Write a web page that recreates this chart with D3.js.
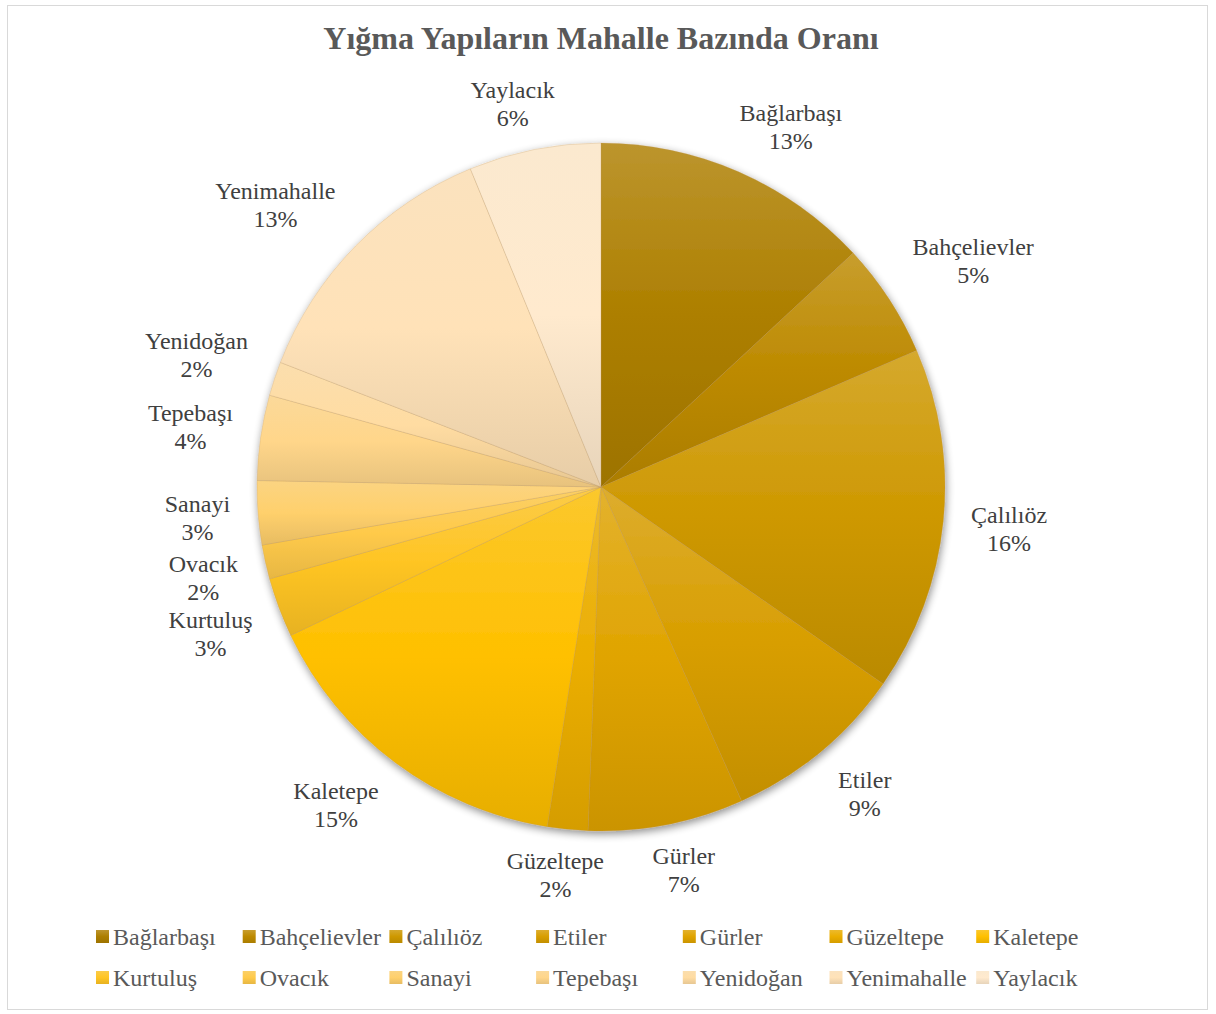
<!DOCTYPE html>
<html>
<head>
<meta charset="utf-8">
<script src="https://cdn.jsdelivr.net/npm/d3@7"></script>
<style>
  body { margin: 0; background: #fff; }
  text { font-family: "Liberation Serif", "Times New Roman", serif; }
</style>
</head>
<body>
<svg id="chart" width="1216" height="1014"></svg>
<script>
// data (share of masonry buildings, %)
var mahalleler = ["Bağlarbaşı","Bahçelievler","Çalılıöz","Etiler","Gürler","Güzeltepe","Kaletepe",
                  "Kurtuluş","Ovacık","Sanayi","Tepebaşı","Yenidoğan","Yenimahalle","Yaylacık"]
var oranlar = [13.1, 5.4, 16.2, 8.6, 7.3, 1.9, 15.4, 2.8, 1.6, 3.0, 4.0, 1.6, 12.9, 6.2]
var renkler = ["#ad7f00","#bd8a00","#ce9800","#d89e00","#e0a400","#ebae00","#ffc000",
               "#ffc524","#ffca4a","#ffd06c","#ffd68a","#ffdca2","#ffe2b8","#ffeace"]

var svg = d3.select("#chart")
var cx = 601, cy = 487, R = 344

svg.append("rect").attr("x",7.5).attr("y",5.5).attr("width",1200).attr("height",1004)
    .style("fill","#fff").style("stroke","#d9d9d9").style("stroke-width",1)

svg.append("text").attr("x",cx).attr("y",49).attr("text-anchor","middle")
    .style("font-size","32px").style("font-weight","bold").style("fill","#595959")
    .text("Yığma Yapıların Mahalle Bazında Oranı")

var defs = svg.append("defs")
var shadow = defs.append("filter").attr("id","shadow").attr("x","-10%").attr("y","-10%").attr("width","120%").attr("height","120%")
shadow.append("feGaussianBlur").attr("in","SourceAlpha").attr("stdDeviation",4)
shadow.append("feOffset").attr("dx",1).attr("dy",3).attr("result","off")
shadow.append("feComponentTransfer").append("feFuncA").attr("type","linear").attr("slope",0.45)
var merge = shadow.append("feMerge")
merge.append("feMergeNode")
merge.append("feMergeNode").attr("in","SourceGraphic")

function topColor(c){ return d3.interpolateRgb(c, "#efe4d2")(0.22) }
function bottomColor(c){ return d3.rgb(c).darker(0.28).formatHex() }

renkler.forEach(function(c,i){
    var gr = defs.append("linearGradient").attr("id","grad"+i).attr("x1",0).attr("y1",0).attr("x2",0).attr("y2",1)
    gr.append("stop").attr("offset","0%").attr("stop-color",topColor(c))
    gr.append("stop").attr("offset","50%").attr("stop-color",c)
    gr.append("stop").attr("offset","100%").attr("stop-color",bottomColor(c))
})

var pie = d3.pie().sort(null).value(function(d){ return d })
var arcs = pie(oranlar)
var total = d3.sum(oranlar)
var arc = d3.arc().innerRadius(0).outerRadius(R)

var g = svg.append("g").attr("transform","translate("+cx+","+cy+")")
var slices = g.append("g").attr("filter","url(#shadow)")
slices.selectAll("path").data(arcs).enter().append("path")
    .attr("d",arc)
    .style("fill",function(d,i){ return "url(#grad"+i+")" })
    .style("stroke","rgba(190,150,90,0.35)").style("stroke-width",0.7)

// outside end labels
var fs = 24, lh = 28, gapX = 372, gapY = 362
var clamp = function(v){ return Math.max(-1, Math.min(1, v)) }
arcs.forEach(function(d,i){
    var a = (d.startAngle+d.endAngle)/2
    var lab = g.append("text").attr("text-anchor","middle").style("font-size",fs+"px").style("fill","#404040")
    var t1 = lab.append("tspan").text(mahalleler[i])
    var t2 = lab.append("tspan").text(Math.round(d.value/total*100)+"%")
    var w = Math.max(t1.node().getComputedTextLength(), t2.node().getComputedTextLength())
    var x = gapX*Math.sin(a) + w/2*clamp(2*Math.sin(a))
    var y = -gapY*Math.cos(a) + lh*clamp(-2*Math.cos(a))
    t1.attr("x",x).attr("y",y-6)
    t2.attr("x",x).attr("y",y-6+lh)
})

// legend
var legX = 96, legY = 930, colW = 146.7, rowH = 41
var leg = svg.append("g")
mahalleler.forEach(function(m,i){
    var col = i%7, row = Math.floor(i/7)
    var item = leg.append("g").attr("transform","translate("+(legX+col*colW)+","+(legY+row*rowH)+")")
    item.append("rect").attr("width",13).attr("height",13).style("fill","url(#grad"+i+")")
    item.append("text").attr("x",17).attr("y",15).style("font-size","24px").style("fill","#595959").text(m)
})
</script>
</body>
</html>
